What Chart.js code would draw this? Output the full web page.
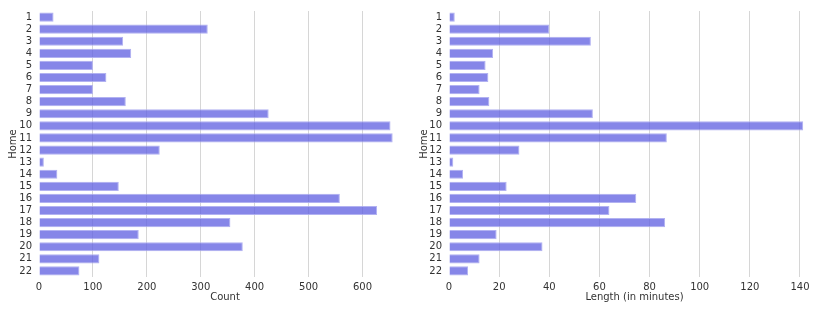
<!DOCTYPE html>
<html>
<head>
<meta charset="utf-8">
<script src="https://cdn.jsdelivr.net/npm/chart.js@4/dist/chart.umd.min.js"></script>
<style>
  html, body { margin: 0; padding: 0; background: #fff; }
  #wrap { position: relative; width: 830px; height: 312px; }
  .c { position: absolute; top: 0; width: 415px; height: 312px; }
</style>
</head>
<body>
<div id="wrap">
  <div class="c" style="left:0"><canvas id="left"></canvas></div>
  <div class="c" style="left:415px"><canvas id="right"></canvas></div>
</div>
<script>
const homes = ['1','2','3','4','5','6','7','8','9','10','11','12','13','14','15','16','17','18','19','20','21','22'];
const counts = [27, 313, 156, 171, 100, 125, 100, 161, 426, 652, 656, 224, 9, 34, 148, 558, 627, 355, 185, 378, 112, 75];
const lengths = [2.3, 40, 56.6, 17.6, 14.6, 15.7, 12.2, 16.1, 57.4, 141.3, 86.9, 28.1, 1.7, 5.6, 23, 74.7, 64, 86.2, 19, 37.3, 12.2, 7.6];
const countTicks = [0, 100, 200, 300, 400, 500, 600];
const lengthTicks = [0, 20, 40, 60, 80, 100, 120, 140];

const FONT = 'DejaVu Sans';
const TXT = '#333';

function makeChart(id, values, tickVals, maxVal, xTitle, padLeft, padRight, yWidth) {
  const ctx = document.getElementById(id);
  return new Chart(ctx, {
    type: 'bar',
    data: {
      labels: homes,
      datasets: [{
        data: values,
        backgroundColor: 'rgba(100,100,225,0.78)',
        borderColor: 'rgba(170,170,240,0.9)',
        borderWidth: 1,
        categoryPercentage: 1.0,
        barPercentage: 0.76
      }]
    },
    options: {
      indexAxis: 'y',
      responsive: true,
      maintainAspectRatio: false,
      animation: false,
      layout: { padding: { left: padLeft, right: padRight, top: 11, bottom: 7 } },
      plugins: { legend: { display: false }, tooltip: { enabled: false } },
      scales: {
        x: {
          type: 'linear',
          min: 0,
          max: maxVal,
          afterBuildTicks: (scale) => {
            scale.ticks = tickVals.map(v => ({ value: v }));
          },
          grid: {
            drawTicks: false,
            color: (c) => (c.tick && c.tick.value === 0) ? 'rgba(0,0,0,0)' : '#d6d6d6',
            lineWidth: 1
          },
          border: { display: false },
          ticks: { padding: 4, color: TXT, font: { family: FONT, size: 10 } },
          title: { display: true, text: xTitle, color: TXT, padding: { top: -6, bottom: 2 }, font: { family: FONT, size: 10 } }
        },
        y: {
          grid: { display: false, drawTicks: false },
          border: { display: false },
          ticks: { autoSkip: false, padding: 7, color: TXT, font: { family: FONT, size: 10 } },
          title: { display: true, text: 'Home', color: TXT, padding: { top: 0, bottom: 0 }, font: { family: FONT, size: 10 } },
          afterFit: (scale) => { scale.width = yWidth; scale.paddingTop = 0; scale.paddingBottom = 0; }
        }
      }
    }
  });
}

makeChart('left', counts, countTicks, 690, 'Count', 7, 4, 32);
makeChart('right', lengths, lengthTicks, 148, 'Length (in minutes)', 3, 10, 31);
</script>
</body>
</html>
